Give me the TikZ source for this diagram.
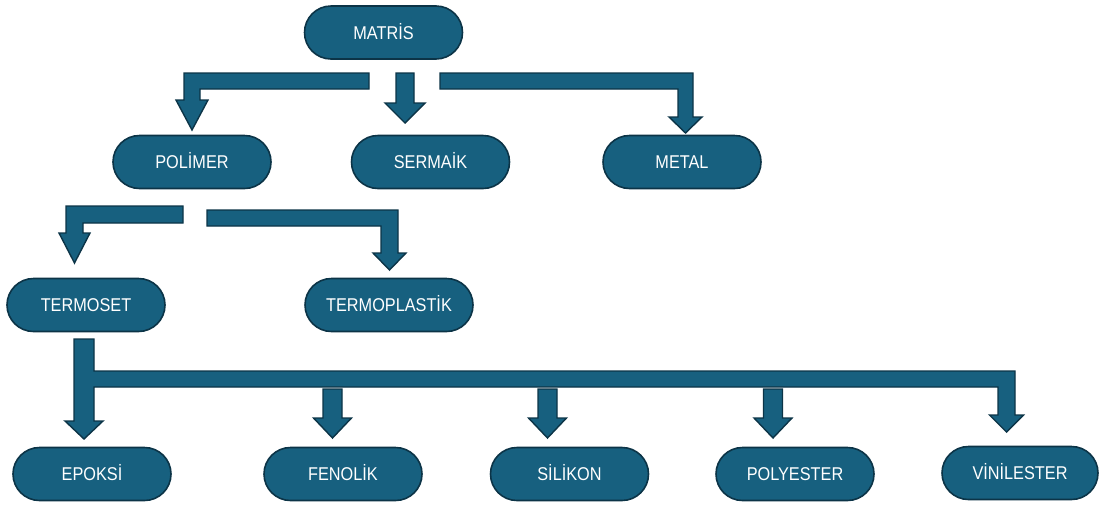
\documentclass[tikz,border=0pt]{standalone}
\usepackage{fontspec}
\setmainfont{Liberation Sans}[FakeStretch=0.88]
\definecolor{boxfill}{HTML}{17607F}
\definecolor{boxline}{HTML}{0C3447}
\tikzset{
  stadium/.style={draw=boxline, line width=1.6pt, fill=boxfill, rounded corners=26.5pt,
    minimum height=53pt, minimum width=158pt, inner sep=0pt, text=white,
    text height=13pt, text depth=0pt,
    font=\fontsize{18.5}{21}\selectfont},
  blockarrow/.style={draw=boxline, line width=1.4pt, fill=boxfill, line join=miter},
}
\begin{document}
\begin{tikzpicture}[x=1pt,y=-1pt]
\useasboundingbox (0,0) rectangle (1099,504);
% nodes
\node[stadium] (matris) at (383.5,32.5) {MATRİS};
\node[stadium] (polimer) at (192,162) {POLİMER};
\node[stadium] (seramik) at (430.5,162) {SERMAİK};
\node[stadium] (metal) at (682,162) {METAL};
\node[stadium] (termoset) at (86,305) {TERMOSET};
\node[stadium, minimum width=168pt] (termoplastik) at (389,305) {TERMOPLASTİK};
\node[stadium] (epoksi) at (92,474) {EPOKSİ};
\node[stadium] (fenolik) at (343,474) {FENOLİK};
\node[stadium] (silikon) at (569.5,474) {SİLİKON};
\node[stadium] (polyester) at (795,474) {POLYESTER};
\node[stadium, minimum width=156pt] (vinilester) at (1020,473) {VİNİLESTER};
% level 1 arrows
\draw[blockarrow] (369,73) -- (184,73) -- (184,100) -- (176,100) -- (192,130) -- (208,100) -- (200,100) -- (200,89) -- (369,89) -- cycle;
\draw[blockarrow] (396,73) -- (414,73) -- (414,103) -- (425,103) -- (405,123) -- (385,103) -- (396,103) -- cycle;
\draw[blockarrow] (440,73) -- (693,73) -- (693,117) -- (702,117) -- (685.5,133) -- (669,117) -- (678,117) -- (678,89) -- (440,89) -- cycle;
% level 2 arrows
\draw[blockarrow] (183,206) -- (66,206) -- (66,233) -- (59,233) -- (74.5,263) -- (90,233) -- (83,233) -- (83,223) -- (183,223) -- cycle;
\draw[blockarrow] (207,210) -- (398,210) -- (398,253) -- (406,253) -- (389.5,270) -- (373,253) -- (381,253) -- (381,226) -- (207,226) -- cycle;
% level 3 main arrow
\draw[blockarrow] (74,339) -- (94,339) -- (94,371) -- (1015,371) -- (1015,415) -- (1023.5,415) -- (1006.5,432) -- (989.5,415) -- (998,415) -- (998,387) -- (94,387) -- (94,421) -- (103,421) -- (84,439) -- (65,421) -- (74,421) -- cycle;
% small arrows
\foreach \cx in {332.5,547.5,773} {
  \draw[blockarrow] (\cx-9.5,389) -- (\cx+9.5,389) -- (\cx+9.5,418) -- (\cx+19,418) -- (\cx,438) -- (\cx-19,418) -- (\cx-9.5,418) -- cycle;
}
\end{tikzpicture}
\end{document}
